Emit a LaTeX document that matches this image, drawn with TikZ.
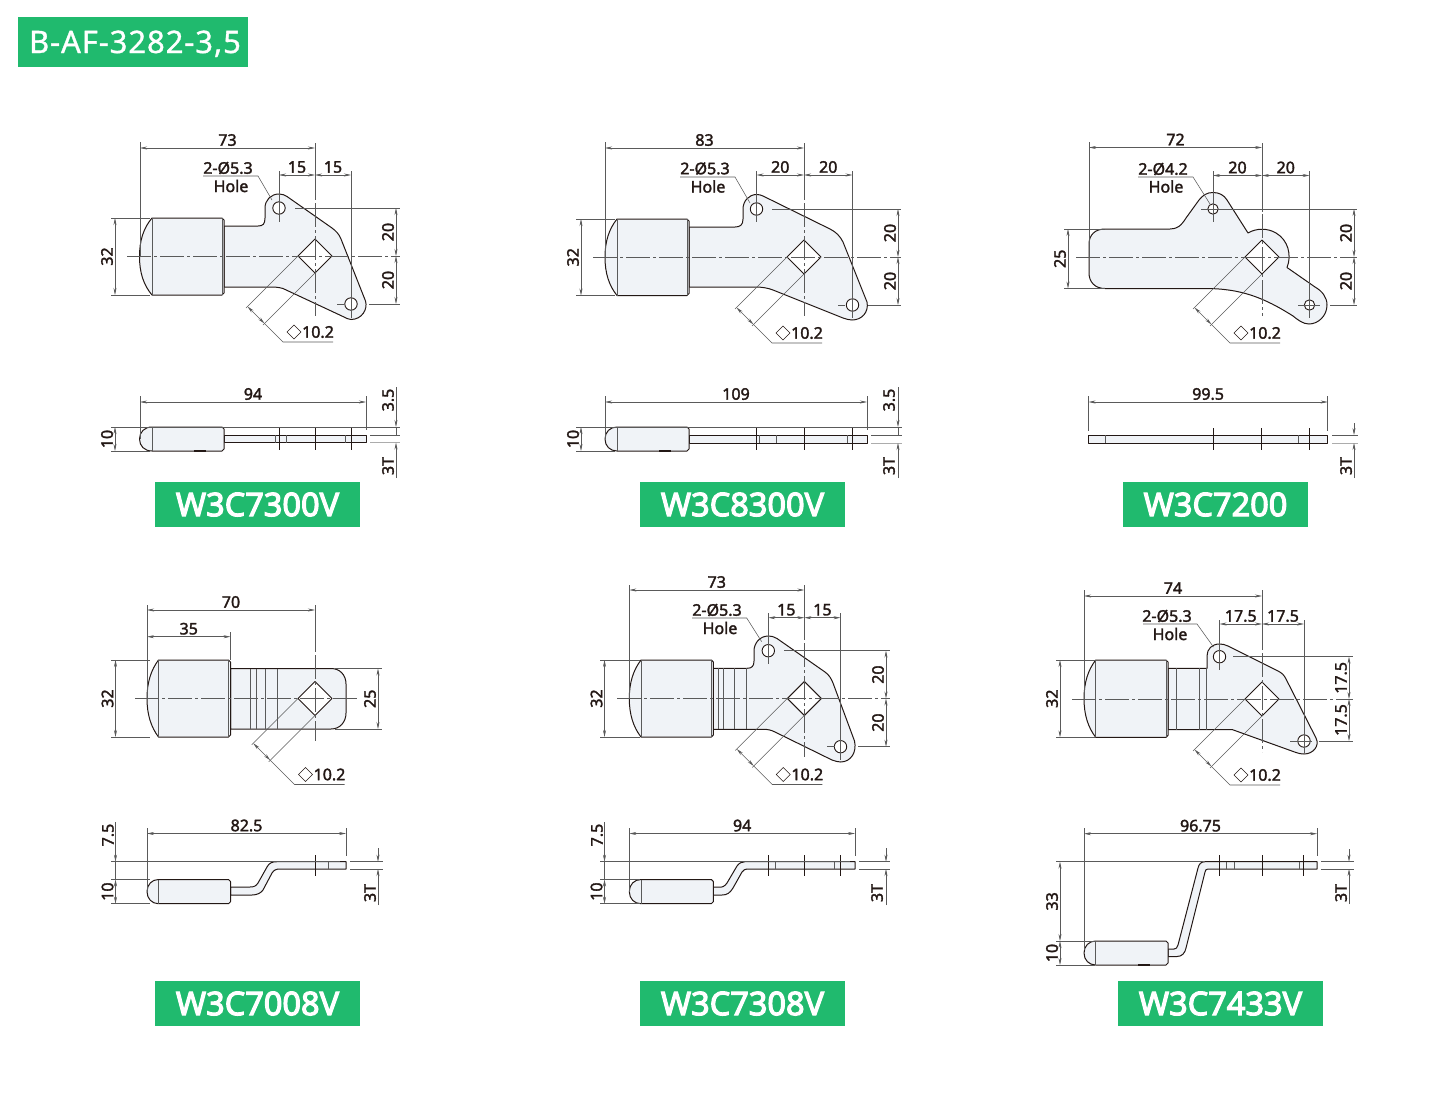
\documentclass[tikz,border=0pt]{standalone}
\usepackage{fontspec}
\usetikzlibrary{arrows.meta}
\setmainfont{Noto Sans}
\newfontfamily\dimfont[FakeBold=2]{Noto Sans}
\newfontfamily\modelfont[FakeBold=3.5]{Noto Sans}
\newfontfamily\seriesfont[FakeBold=1,LetterSpace=3]{Noto Sans}
\definecolor{ink}{HTML}{231815}
\definecolor{platefill}{HTML}{F0F3F7}
\definecolor{badge}{HTML}{20BA6E}
\definecolor{thingray}{HTML}{5A5A5A}

\begin{document}
\begin{tikzpicture}[x=1pt,y=-1pt]
        \tikzset{
    part/.style={draw=ink, fill=platefill, line width=1pt, line join=round},
    bare/.style={draw=ink, line width=.7pt},
    ext/.style={draw=thingray, line width=.55pt},
    cline/.style={draw=thingray, line width=.6pt, dash pattern=on 24pt off 3pt on 3pt off 3pt},
    dimline/.style={draw=thingray, line width=.55pt, <->, >={Stealth[length=7pt,width=3pt]}},
    arrowline/.style={draw=thingray, line width=.55pt, ->, >={Stealth[length=7pt,width=3pt]}},
    lbl/.style={font=\dimfont\fontsize{16}{16}\selectfont, text=ink, inner sep=0pt},
    model/.style={fill=badge, text=white, font=\modelfont\fontsize{32.5}{33}\selectfont, inner sep=0pt, minimum height=45pt},
        }
        \useasboundingbox (0,0) rectangle (1450,1095);

        % name, y, x from, x to, text
        \def\dimh#1#2#3#4#5{
          \draw[dimline] (#3,#2) -- (#4,#2);
          \node[lbl] (#1) at ({(#3+#4)/2},#2-8) {#5};}
        % name, x, y from, y to, text
        \def\dimv#1#2#3#4#5{
          \draw[dimline] (#2,#3) -- (#2,#4);
          \node[lbl, rotate=90] (#1) at (#2-8,{(#3+#4)/2}) {#5};}
        % left, top, bottom, start of straight part, right
        \def\topgrip#1#2#3#4#5{
          \draw[part] (#4,#2) -- (#5-2,#2) -- (#5,#2+2) -- (#5,#3-2) -- (#5-2,#3) -- (#4,#3)
            .. controls (#1+4,#3-10) and (#1,{(#2+#3)/2+16}) .. (#1,{(#2+#3)/2})
            .. controls (#1,{(#2+#3)/2-16}) and (#1+4,#2+10) .. (#4,#2) -- cycle;
          \draw[ext] (#4,#2) -- (#4,#3);
          \draw[ext] (#5-2,#2) -- (#5-2,#3);}
        \def\sidegrip#1#2#3#4#5{
          \draw[part] (#4,#2) -- (#5-2,#2) -- (#5,#2+2) -- (#5,#3-2) -- (#5-2,#3) -- (#4,#3)
            .. controls (#1+5,#3) and (#1,#3-5) .. (#1,{(#2+#3)/2})
            .. controls (#1,#2+5) and (#1+5,#2) .. (#4,#2) -- cycle;
          \draw[ext] (#4,#2) -- (#4,#3);
          \draw[draw=ink, line width=1.4pt] (#1+54,#3) -- (#1+66,#3);}
        \def\hole#1#2#3{\draw[part, fill=white, line width=.9pt] (#1,#2) circle (#3);}
        % name, centre x, centre y, shift of the label
        \def\sqhole#1#2#3#4{
          \begin{scope}[shift={(#2,#3)}]
            \pgfmathsetmacro\diagt{50.5-#4/2}
            \draw[part, fill=white] (-17,0) -- (0,-17) -- (17,0) -- (0,17) -- cycle;
            \draw[ext] (-17,0) -- (-\diagt-18.5,\diagt+1.5);
            \draw[ext] (0,17) -- (-\diagt-1.5,\diagt+18.5);
            \draw[dimline] (-\diagt-17,\diagt) -- (-\diagt,\diagt+17);
            \draw[ext] (-\diagt,\diagt+17) -- (-32+#4,86) -- (18+#4,86);
            \draw[ext, draw=ink] (-28+#4,76) -- (-21+#4,69) -- (-14+#4,76) -- (-21+#4,83) -- cycle;
            \node[lbl] (#1) at (3+#4,76) {10.2};
          \end{scope}}

        \node[fill=badge, text=white, minimum width=230pt, minimum height=50pt, inner sep=0pt,
          text height=22pt, text depth=0pt,
          font=\seriesfont\fontsize{31}{31}\selectfont] (series) at (133,42) {\hspace{4pt}B-AF-3282-3,5};

        % W3C7300V, front
        \draw[part] (224,226) -- (258,226) .. controls (263,226) and (265,224) .. (265,218) -- (265,208)
          .. controls (265,200) and (271,194) .. (279,194) .. controls (282,194) and (285,195) .. (287,196.5)
          -- (332,228) .. controls (336,231) and (339,234) .. (341,239) -- (365.5,301)
          .. controls (368,309) and (362,319.5) .. (351,319.5) .. controls (348.5,319.5) and (346,318) .. (344,317)
          -- (283,288.5) .. controls (278,287) and (274,287) .. (268,287) -- (224,287) -- cycle;
        \topgrip{139.5}{218}{295}{152}{224}
        \hole{279}{208}{6.2}
        \hole{351}{304}{6.2}
        \sqhole{a10}{315}{256}{0}
        \draw[ext] (140,142) -- (140,256);
        \draw[ext] (315,143) -- (315,200);
        \draw[cline] (315,203) -- (315,316);
        \draw[ext] (279,171) -- (279,222);
        \draw[ext] (351,171) -- (351,318);
        \draw[ext] (295,208) -- (400,208);
        \draw[cline] (127,256) -- (400,256);
        \draw[ext] (337,304) -- (344,304);
        \draw[ext] (369,304) -- (400,304);
        \draw[ext] (111,218) -- (150,218);
        \draw[ext] (111,295) -- (150,295);
        \dimh{a73}{148}{140}{315}{73}
        \dimh{a15l}{175}{279}{315}{15}
        \dimh{a15r}{175}{315}{351}{15}
        \dimv{a20t}{396}{208}{256}{20}
        \dimv{a20b}{396}{256}{304}{20}
        \dimv{a32}{115}{218}{295}{32}
        \draw[ext] (203,176) -- (258,176) -- (272,200);
        \node[lbl] (aholes) at (228,168) {2-Ø5.3};
        \node[lbl] (ahole) at (231,186) {Hole};

        % W3C7300V, side
        \draw[part] (224,435) rectangle (366,442.6);
        \sidegrip{139.5}{427}{451}{152}{224}
        \draw[ext] (275.5,435) -- (275.5,442.6);
        \draw[ext] (286.5,435) -- (286.5,442.6);
        \draw[ext] (345,435) -- (345,442.6);
        \draw[bare] (279,428) -- (279,450);
        \draw[bare] (315,428) -- (315,450);
        \draw[bare] (351,428) -- (351,450);
        \draw[ext] (140,396) -- (140,439);
        \draw[ext] (366,396) -- (366,430);
        \draw[ext] (111,427) -- (400,427);
        \draw[ext] (111,451) -- (150,451);
        \draw[ext] (370,435) -- (400,435);
        \draw[ext, draw=thingray!50] (370,442.6) -- (400,442.6);
        \dimh{a94}{402}{140}{366}{94}
        \dimv{a10s}{115}{427}{451}{10}
        \draw[arrowline] (396,387) -- (396,427);
        \draw[ext] (396,427) -- (396,435);
        \draw[arrowline] (396,478) -- (396,442.6);
        \node[lbl, rotate=90] (a35) at (388,400) {3.5};
        \node[lbl, rotate=90] (a3t) at (388,466) {3T};
        \node[model, minimum width=205pt] (amodel) at (257.5,504.5) {W3C7300V};

        % W3C8300V, front
        \draw[part] (689,227) -- (735,227) .. controls (740,227) and (743,225) .. (743,219) -- (743,209)
          .. controls (743,201) and (749,194.5) .. (756.5,194.5) .. controls (759,194.5) and (761,195) .. (763,196)
          -- (830,229) .. controls (836,232) and (840,236) .. (843,242) -- (867,302)
          .. controls (869,312) and (862,320) .. (852,320) .. controls (849,320) and (846,319) .. (843,318)
          -- (773,290) .. controls (768,288) and (762,287) .. (755,287) -- (689,287) -- cycle;
        \topgrip{605}{219}{295.5}{617}{689}
        \hole{756.5}{209}{6.2}
        \hole{852.5}{305}{6.2}
        \sqhole{b10}{804}{257}{0}
        \draw[ext] (605,142) -- (605,257);
        \draw[ext] (804,143) -- (804,200);
        \draw[cline] (804,203) -- (804,316);
        \draw[ext] (756.5,171) -- (756.5,222);
        \draw[ext] (852.5,171) -- (852.5,318);
        \draw[ext] (772,209) -- (901,209);
        \draw[cline] (593,257) -- (901,257);
        \draw[ext] (838,305) -- (845,305);
        \draw[ext] (868,305) -- (901,305);
        \draw[ext] (576,219) -- (615,219);
        \draw[ext] (576,295.5) -- (615,295.5);
        \dimh{b83}{148}{605}{804}{83}
        \dimh{b20l}{175}{756.5}{804}{20}
        \dimh{b20r}{175}{804}{852.5}{20}
        \dimv{b20t}{898}{209}{257}{20}
        \dimv{b20b}{898}{257}{305}{20}
        \dimv{b32}{581}{219}{295.5}{32}
        \draw[ext] (680,177) -- (735,177) -- (750,203);
        \node[lbl] (bholes) at (705,168.5) {2-Ø5.3};
        \node[lbl] (bhole) at (708,186.5) {Hole};

        % W3C8300V, side
        \draw[part] (689,435) rectangle (867,443);
        \sidegrip{605}{427}{451}{617}{689}
        \draw[ext] (759.7,435) -- (759.7,443);
        \draw[ext] (776.7,435) -- (776.7,443);
        \draw[ext] (847.3,435) -- (847.3,443);
        \draw[bare] (756.5,428) -- (756.5,450);
        \draw[bare] (804,428) -- (804,450);
        \draw[bare] (852.5,428) -- (852.5,450);
        \draw[ext] (605,396) -- (605,439);
        \draw[ext] (867,396) -- (867,430);
        \draw[ext] (576,427) -- (902,427);
        \draw[ext] (576,451) -- (615,451);
        \draw[ext] (871,435) -- (902,435);
        \draw[ext, draw=thingray!50] (871,443) -- (902,443);
        \dimh{b109}{402}{605}{867}{109}
        \dimv{b10s}{581}{427}{451}{10}
        \draw[arrowline] (898,387) -- (898,427);
        \draw[ext] (898,427) -- (898,435);
        \draw[arrowline] (898,478) -- (898,443);
        \node[lbl, rotate=90] (b35) at (889,400) {3.5};
        \node[lbl, rotate=90] (b3t) at (889,466) {3T};
        \node[model, minimum width=205pt] (bmodel) at (742.5,504.5) {W3C8300V};

        % W3C7200, front
        \draw[part] (1105,229) -- (1170,229) .. controls (1177,229) and (1181,226) .. (1186,218) -- (1199,200)
          .. controls (1203,195) and (1207,192.5) .. (1213,192.5) .. controls (1219,192.5) and (1224,195) .. (1227,200)
          -- (1248,233) .. controls (1256,228) and (1268,228) .. (1276,233) .. controls (1288,240) and (1292,255) .. (1287,267.5)
          -- (1315,287) .. controls (1322,291) and (1327,297) .. (1327,305) .. controls (1327,316) and (1318,324) .. (1309,324)
          .. controls (1303,324) and (1298,320) .. (1293,316) .. controls (1263,297) and (1240,288.5) .. (1205,288.5)
          -- (1105,288.5) .. controls (1095,288.5) and (1089,282) .. (1089,273) -- (1089,244)
          .. controls (1089,235) and (1095,229) .. (1105,229) -- cycle;
        \hole{1213}{209}{5.2}
        \hole{1309.5}{305}{5.2}
        \sqhole{c10}{1262}{257}{0}
        \draw[ext] (1089,142) -- (1089,257);
        \draw[ext] (1262,143) -- (1262,212);
        \draw[cline] (1262,214) -- (1262,316);
        \draw[ext] (1213,171) -- (1213,222);
        \draw[ext] (1309.5,171) -- (1309.5,318);
        \draw[ext] (1201,209) -- (1357,209);
        \draw[cline] (1076,257) -- (1357,257);
        \draw[ext] (1298,305) -- (1320,305);
        \draw[ext] (1330,305) -- (1357,305);
        \draw[ext] (1064,229) -- (1105,229);
        \draw[ext] (1064,288.5) -- (1105,288.5);
        \dimh{c72}{147.5}{1089}{1262}{72}
        \dimh{c20l}{175.5}{1213}{1262}{20}
        \dimh{c20r}{175.5}{1262}{1309.5}{20}
        \dimv{c20t}{1354}{209}{257}{20}
        \dimv{c20b}{1354}{257}{305}{20}
        \dimv{c25}{1068}{229}{288.5}{25}
        \draw[ext] (1138,177) -- (1193,177) -- (1210,204);
        \node[lbl] (choles) at (1163,169) {2-Ø4.2};
        \node[lbl] (chole) at (1166,186.5) {Hole};

        % W3C7200, side
        \draw[part] (1088.5,435) rectangle (1327.7,443);
        \draw[ext] (1105.3,435) -- (1105.3,443);
        \draw[ext] (1298,435) -- (1298,443);
        \draw[bare] (1213.3,428) -- (1213.3,450);
        \draw[bare] (1261.7,428) -- (1261.7,450);
        \draw[bare] (1309.3,428) -- (1309.3,450);
        \draw[ext] (1088.5,396) -- (1088.5,431);
        \draw[ext] (1327.7,396) -- (1327.7,431);
        \draw[ext] (1332,435) -- (1358,435);
        \draw[ext, draw=thingray!50] (1332,443) -- (1358,443);
        \dimh{c995}{402}{1088.5}{1327.7}{99.5}
        \draw[arrowline] (1354,423) -- (1354,435);
        \draw[arrowline] (1354,478) -- (1354,443);
        \node[lbl, rotate=90] (c3t) at (1346,466) {3T};
        \node[model, minimum width=185pt] (cmodel) at (1215.5,504.5) {W3C7200};

        % W3C7008V, front
        \draw[part] (230.5,668.5) -- (331,668.5) .. controls (340,668.5) and (346,675) .. (346,684) -- (346,713)
          .. controls (346,722) and (340,729) .. (331,729) -- (230.5,729) -- cycle;
        \topgrip{147}{660}{737}{158.5}{230.5}
        \draw[ext] (250,668.5) -- (250,729);
        \draw[ext] (256.5,668.5) -- (256.5,729);
        \draw[ext] (265.7,668.5) -- (265.7,729);
        \draw[ext] (277.7,668.5) -- (277.7,729);
        \sqhole{d10}{315}{698.5}{11.5}
        \draw[ext] (147,605) -- (147,698);
        \draw[ext] (230.5,632) -- (230.5,660);
        \draw[ext] (315,605) -- (315,652);
        \draw[cline] (315,655) -- (315,741);
        \draw[cline] (135,698.5) -- (358,698.5);
        \draw[ext] (111,660) -- (150,660);
        \draw[ext] (111,737) -- (150,737);
        \draw[ext] (335,668.5) -- (382,668.5);
        \draw[ext] (335,729) -- (382,729);
        \dimh{d70}{610}{147}{315}{70}
        \dimh{d35}{636.7}{147}{230.5}{35}
        \dimv{d32}{115.5}{660}{737}{32}
        \dimv{d25}{378}{668.5}{729}{25}

        % W3C7008V, side
        \draw[part] (230.5,887) -- (250,887) .. controls (254,887) and (256,886) .. (258,883) -- (267,867)
          .. controls (269,863) and (272,861.7) .. (277,861.7) -- (346,861.7) -- (346,869) -- (280,869)
          .. controls (276,869) and (274,870) .. (272,873) -- (263,890) .. controls (261,893) and (257,895) .. (252,895)
          -- (230.5,895) -- cycle;
        \sidegrip{147}{879.5}{903.7}{158.5}{230.5}
        \draw[ext] (328.5,861.7) -- (328.5,869);
        \draw[bare] (315,855) -- (315,876);
        \draw[ext] (147,828) -- (147,892);
        \draw[ext] (346,828) -- (346,856);
        \draw[ext] (111,861.7) -- (340,861.7);
        \draw[ext] (350,861.7) -- (383,861.7);
        \draw[ext] (350,869) -- (383,869);
        \draw[ext] (111,879.5) -- (150,879.5);
        \draw[ext] (111,903.7) -- (150,903.7);
        \dimh{d825}{833.5}{147}{346}{82.5}
        \dimv{d10s}{115.5}{879.5}{903.7}{10}
        \draw[arrowline] (115.5,822) -- (115.5,861.7);
        \draw[ext] (115.5,861.7) -- (115.5,879.5);
        \node[lbl, rotate=90] (d75) at (108,835) {7.5};
        \draw[arrowline] (378,848) -- (378,861.7);
        \draw[arrowline] (378,905) -- (378,869);
        \node[lbl, rotate=90] (d3t) at (370,893) {3T};
        \node[model, minimum width=205pt] (dmodel) at (257.5,1003.5) {W3C7008V};

        % W3C7308V, front
        \draw[part] (713.3,668.3) -- (747,668.3) .. controls (752,668.3) and (754,666) .. (754,661) -- (754,651)
          .. controls (754,643) and (760,636) .. (768.3,636) .. controls (771,636) and (774,636.5) .. (777,638.5)
          -- (825,672) .. controls (829,675) and (831,678) .. (833,683) -- (854.5,741)
          .. controls (857,752) and (851,762) .. (840.5,762) .. controls (838,762) and (835,761) .. (832,760)
          -- (775,732) .. controls (771,730) and (768,729.3) .. (763,729.3) -- (713.3,729.3) -- cycle;
        \topgrip{629.3}{660}{737}{641}{713.3}
        \draw[ext] (718,668.3) -- (718,729.3);
        \draw[ext] (723.3,668.3) -- (723.3,729.3);
        \draw[ext] (734,668.3) -- (734,729.3);
        \draw[ext] (746.7,668.3) -- (746.7,729.3);
        \hole{768.3}{650.7}{6.2}
        \hole{840.5}{746.7}{6.2}
        \sqhole{e10}{804.3}{698.5}{0}
        \draw[ext] (629.3,585) -- (629.3,698);
        \draw[ext] (804.3,585) -- (804.3,640);
        \draw[cline] (804.3,643) -- (804.3,757);
        \draw[ext] (768.3,613) -- (768.3,664);
        \draw[ext] (840.5,613) -- (840.5,760);
        \draw[ext] (784,650.7) -- (890,650.7);
        \draw[cline] (617,698.5) -- (890,698.5);
        \draw[ext] (827,746.7) -- (835,746.7);
        \draw[ext] (858,746.7) -- (890,746.7);
        \draw[ext] (600,660) -- (640,660);
        \draw[ext] (600,737) -- (640,737);
        \dimh{e73}{590}{629.3}{804.3}{73}
        \dimh{e15l}{617.7}{768.3}{804.3}{15}
        \dimh{e15r}{617.7}{804.3}{840.5}{15}
        \dimv{e20t}{886}{650.7}{698.5}{20}
        \dimv{e20b}{886}{698.5}{746.7}{20}
        \dimv{e32}{604.5}{660}{737}{32}
        \draw[ext] (692,618) -- (746.7,618) -- (761.7,641.7);
        \node[lbl] (eholes) at (717,610) {2-Ø5.3};
        \node[lbl] (ehole) at (720,628) {Hole};

        % W3C7308V, side
        \draw[part] (713.3,887) -- (718,887) .. controls (722,888) and (725,886) .. (727,883) -- (737,866)
          .. controls (739,863) and (742,861.7) .. (745,861.7) -- (855,861.7) -- (855,869) -- (749,869)
          .. controls (745,869) and (743,870) .. (742,872) -- (733,888) .. controls (730,893) and (727,895) .. (722,895)
          -- (713.3,895) -- cycle;
        \sidegrip{629.3}{879.5}{903.7}{641}{713.3}
        \draw[ext] (775.7,861.7) -- (775.7,869);
        \draw[ext] (834,861.7) -- (834,869);
        \draw[bare] (768.3,855) -- (768.3,876);
        \draw[bare] (804.3,855) -- (804.3,876);
        \draw[bare] (840.5,855) -- (840.5,876);
        \draw[ext] (629.3,828) -- (629.3,892);
        \draw[ext] (855,828) -- (855,856);
        \draw[ext] (600,861.7) -- (850,861.7);
        \draw[ext] (859,861.7) -- (890,861.7);
        \draw[ext] (859,869) -- (890,869);
        \draw[ext] (600,879.5) -- (640,879.5);
        \draw[ext] (600,903.7) -- (640,903.7);
        \dimh{e94}{833.5}{629.3}{855}{94}
        \dimv{e10s}{604.5}{879.5}{903.7}{10}
        \draw[arrowline] (604.5,822) -- (604.5,861.7);
        \draw[ext] (604.5,861.7) -- (604.5,879.5);
        \node[lbl, rotate=90] (e75) at (597,835) {7.5};
        \draw[arrowline] (886,848) -- (886,861.7);
        \draw[arrowline] (886,905) -- (886,869);
        \node[lbl, rotate=90] (e3t) at (877,893) {3T};
        \node[model, minimum width=205pt] (emodel) at (742.5,1003.5) {W3C7308V};

        % W3C7433V, front
        \draw[part] (1168,668.3) -- (1207,668.3) -- (1207,656) .. controls (1207,649) and (1212,644) .. (1219.5,644)
          .. controls (1222,644) and (1225,644.5) .. (1228,646) -- (1278,671) .. controls (1282,673) and (1284,675) .. (1286,679)
          -- (1316,738) .. controls (1320,746) and (1313,754) .. (1304,754) .. controls (1301,754) and (1299,753.5) .. (1296,752.5)
          -- (1232,729.5) -- (1168,729.5) -- cycle;
        \topgrip{1084}{660}{737.3}{1095.7}{1168}
        \draw[ext] (1176.7,668.3) -- (1176.7,729.5);
        \draw[ext] (1199,668.3) -- (1199,729.5);
        \draw[ext] (1206.7,668.3) -- (1206.7,729.5);
        \hole{1219.5}{656.7}{6.2}
        \hole{1304}{741}{6.2}
        \sqhole{f10}{1262}{699}{0}
        \draw[ext] (1084,590) -- (1084,699);
        \draw[ext] (1262,590) -- (1262,650);
        \draw[cline] (1262,653) -- (1262,752);
        \draw[ext] (1219.5,620) -- (1219.5,670);
        \draw[ext] (1304,620) -- (1304,753);
        \draw[ext] (1233,656.7) -- (1353,656.7);
        \draw[cline] (1072,699) -- (1353,699);
        \draw[ext] (1290,741) -- (1312,741);
        \draw[ext] (1319,741) -- (1353,741);
        \draw[ext] (1056,660) -- (1095,660);
        \draw[ext] (1056,737.3) -- (1095,737.3);
        \dimh{f74}{596}{1084}{1262}{74}
        \dimh{f175l}{624}{1219.5}{1262}{17.5}
        \dimh{f175r}{624}{1262}{1304}{17.5}
        \dimv{f175t}{1349}{656.7}{699}{17.5}
        \dimv{f175b}{1349}{699}{741}{17.5}
        \dimv{f32}{1060}{660}{737.3}{32}
        \draw[ext] (1143,624) -- (1197,624) -- (1213.5,647);
        \node[lbl] (fholes) at (1167,616) {2-Ø5.3};
        \node[lbl] (fhole) at (1170,634) {Hole};

        % W3C7433V, side
        \draw[part] (1168,949) -- (1174,949) .. controls (1176,949) and (1177,948) .. (1178,945) -- (1198,868)
          .. controls (1199,864) and (1201,861.7) .. (1205,861.7) -- (1317,861.7) -- (1317,869) -- (1208,869)
          .. controls (1206,869) and (1205.5,870) .. (1205,872) -- (1186,948) .. controls (1185,953) and (1182,956.5) .. (1177,956.5)
          -- (1168,956.5) -- cycle;
        \sidegrip{1084}{941}{965}{1095.7}{1168}
        \draw[ext] (1226.7,861.7) -- (1226.7,869);
        \draw[ext] (1234.7,861.7) -- (1234.7,869);
        \draw[ext] (1299.7,861.7) -- (1299.7,869);
        \draw[bare] (1219.5,855) -- (1219.5,876);
        \draw[bare] (1262,855) -- (1262,876);
        \draw[bare] (1303.5,855) -- (1303.5,876);
        \draw[ext] (1084,828) -- (1084,950);
        \draw[ext] (1317,828) -- (1317,856);
        \draw[ext] (1056,861.7) -- (1203,861.7);
        \draw[ext] (1321,861.7) -- (1354,861.7);
        \draw[ext] (1321,869) -- (1354,869);
        \draw[ext] (1056,941) -- (1095,941);
        \draw[ext] (1056,965) -- (1095,965);
        \dimh{f9675}{833.7}{1084}{1317}{96.75}
        \dimv{f33}{1060}{861.7}{941}{33}
        \dimv{f10s}{1060}{941}{965}{10}
        \draw[arrowline] (1349,849) -- (1349,861.7);
        \draw[arrowline] (1349,904) -- (1349,869);
        \node[lbl, rotate=90] (f3t) at (1341,893) {3T};
        \node[model, minimum width=205pt] (fmodel) at (1220.5,1003.5) {W3C7433V};
      \end{tikzpicture}
\end{document}
